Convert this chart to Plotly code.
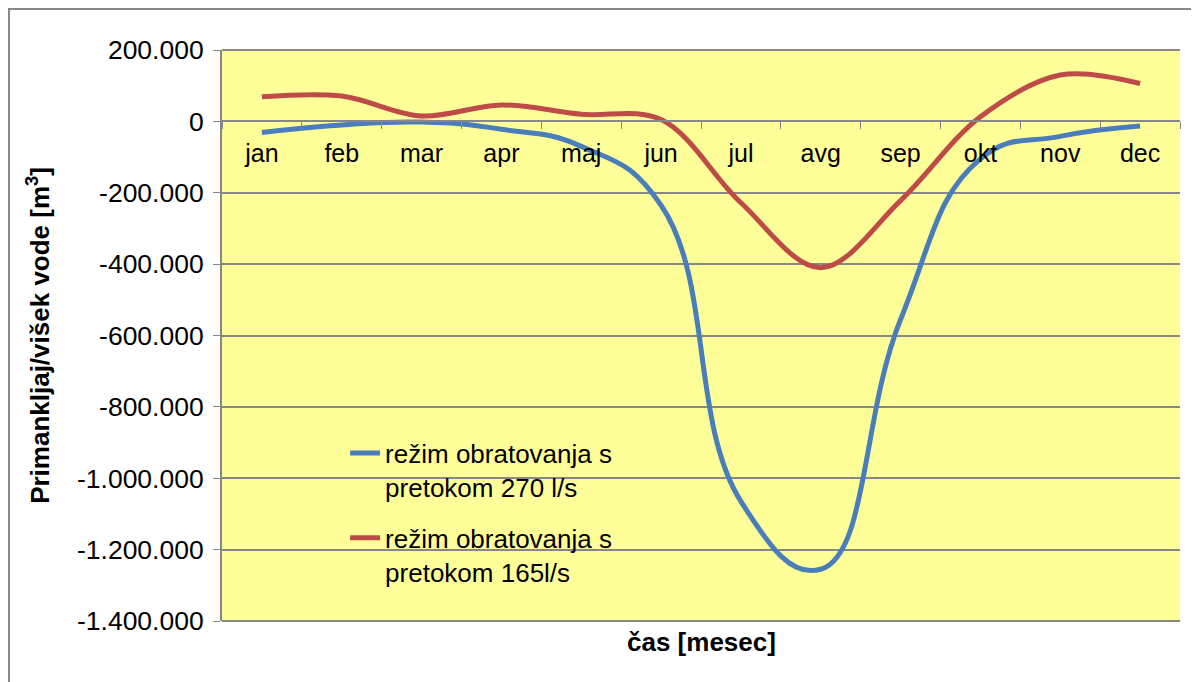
import plotly.graph_objects as go

months = ["jan", "feb", "mar", "apr", "maj", "jun", "jul", "avg", "sep", "okt", "nov", "dec"]
flow_270 = [-31000, -10000, -2000, -22000, -70000, -235000, -1065000, -1255000, -555000, -105000, -42000, -13000]
flow_165 = [69000, 71000, 15000, 46000, 20000, 5000, -228000, -410000, -222000, 13000, 130000, 106000]
series_names = ["režim obratovanja s<br>pretokom 270 l/s", "režim obratovanja s<br>pretokom 165l/s"]
y_tick_vals = [200000, 0, -200000, -400000, -600000, -800000, -1000000, -1200000, -1400000]
y_tick_text = ["200.000", "0", "-200.000", "-400.000", "-600.000", "-800.000", "-1.000.000", "-1.200.000", "-1.400.000"]
x_title = "čas [mesec]"
y_title = "<b>Primankljaj/višek vode [m<sup>3</sup>]</b>"

FONT = "Arial, 'Liberation Sans', sans-serif"
GRID = "#878787"
Y_MIN, Y_MAX = -1400000, 200000

# page is rendered with an 8px body margin, so the figure is 8px smaller
W, H = 1191, 674
ML, MR, MT, MB = 214, 19, 42, 61
PW, PH = W - ML - MR, H - MT - MB

fig = go.Figure()
fig.add_trace(go.Scatter(x=months, y=flow_270, name=series_names[0], mode="lines", legendgroup="a",
                         line=dict(color="#4A7EBB", width=5, shape="spline", smoothing=1.3)))
fig.add_trace(go.Scatter(x=months, y=flow_165, name=series_names[1], mode="lines", legendgroup="b",
                         line=dict(color="#BE4B48", width=5, shape="spline", smoothing=1.0)))

zero_pos = (0 - Y_MIN) / (Y_MAX - Y_MIN)

fig.update_layout(
    width=W, height=H,
    margin=dict(l=ML, r=MR, t=MT, b=MB),
    paper_bgcolor="white",
    plot_bgcolor="#FFFF99",
    font=dict(family=FONT, size=26, color="black"),
    showlegend=True,
    legend=dict(x=0.1285, y=0.335, xanchor="left", yanchor="top", valign="top",
                bgcolor="rgba(0,0,0,0)", font=dict(size=26), tracegroupgap=14),
    xaxis=dict(type="category", categoryorder="array", categoryarray=months,
               range=[-0.5, 11.5], anchor="free", position=zero_pos,
               showline=True, linecolor=GRID, linewidth=2,
               ticks="outside", tickson="boundaries", ticklen=7, tickcolor=GRID,
               ticklabelstandoff=10,
               showgrid=False, zeroline=False, tickfont=dict(size=25), fixedrange=True),
    yaxis=dict(range=[Y_MIN, Y_MAX], tickvals=y_tick_vals, ticktext=y_tick_text,
               showgrid=True, gridcolor=GRID, gridwidth=2, zeroline=False,
               showline=True, linecolor=GRID, linewidth=2,
               ticks="outside", ticklen=7, tickcolor=GRID, ticklabelstandoff=4,
               tickfont=dict(size=26.5),
               title=dict(text=y_title, font=dict(size=26), standoff=20)),
)

# x axis title (axis is drawn across the zero line, so the title sits below the plot)
fig.add_annotation(text="<b>" + x_title + "</b>", xref="paper", yref="paper",
                   x=0.5, y=(H - MB - 634) / PH, xanchor="center", yanchor="middle",
                   showarrow=False, font=dict(size=26))

# plot-area top and bottom edges
for yy in (0, 1):
    fig.add_shape(type="line", xref="paper", yref="paper", x0=0, x1=1, y0=yy, y1=yy,
                  line=dict(color=GRID, width=2), layer="above")

# outer chart frame
fig.add_shape(type="rect", xref="paper", yref="paper",
              x0=(1 - ML) / PW, x1=1.2, y0=-0.3, y1=(H - MB - 1) / PH,
              line=dict(color=GRID, width=2), fillcolor="rgba(0,0,0,0)", layer="below")

fig.write_html("out.html")
